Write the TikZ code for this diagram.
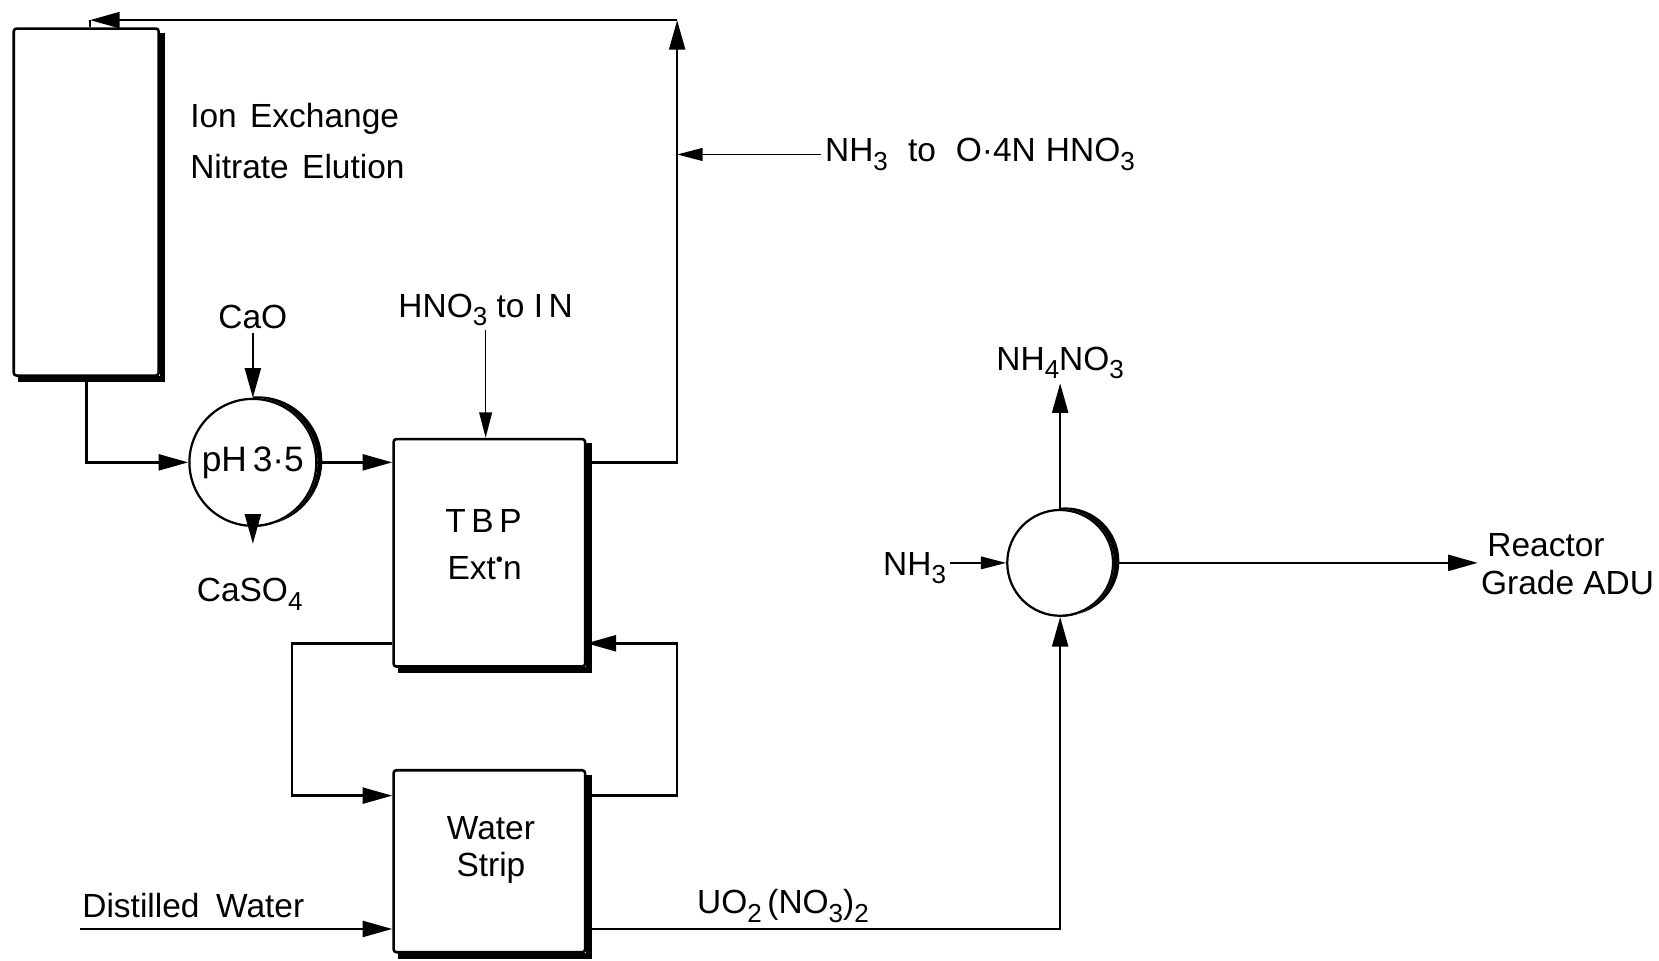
\documentclass[tikz,border=0pt]{standalone}
\usepackage{fontspec}
\setmainfont{Liberation Sans}
\usetikzlibrary{arrows.meta}
\newcommand\chemsub[1]{\raisebox{-0.5ex}{\fontsize{14}{14}\selectfont #1}}
\begin{document}
\begin{tikzpicture}[x=0.02cm,y=-0.02cm,
  unitbox/.style={draw, line width=1.4pt, rounded corners=1.5pt, inner sep=0pt},
  vessel/.style={draw, circle, line width=1.2pt, inner sep=0pt, font=\fontsize{19}{21}\selectfont},
  flow/.style={line width=1.4pt, -{Triangle[length=0.56cm,width=0.30cm]}},
  thinflow/.style={line width=0.9pt, -{Triangle[length=0.48cm,width=0.24cm]}},
  pipe/.style={line width=1.4pt},
  lbl/.style={font=\fontsize{18}{21}\selectfont, inner sep=2pt},
  shade/.style={line width=3pt}]
\useasboundingbox (0,0) rectangle (1568,908);

% units
\node[unitbox, minimum width=2.74cm, minimum height=6.56cm] (col) at (81.5,191) {};
\node[unitbox, minimum width=3.62cm, minimum height=4.30cm] (tbp) at (462.5,522.5) {};
\node[unitbox, minimum width=3.62cm, minimum height=3.44cm] (strip) at (462.5,814) {};
\node[vessel, minimum size=2.4cm] (ph) at (239,437) {pH\,3·5};
\node[vessel, minimum size=2.0cm] (mix) at (1002,532) {};

% shadows
\foreach \b in {col,tbp,strip}{
  \draw[shade] ([xshift=1.3pt,yshift=-3pt]\b.north east) -- ([xshift=1.3pt,yshift=-1.3pt]\b.south east) -- ([xshift=3pt,yshift=-1.3pt]\b.south west);
}
\begin{scope}
  \clip ([yshift=-2cm]ph.center) rectangle ([xshift=2cm,yshift=2cm]ph.center);
  \fill[even odd rule] (ph.center) circle[radius=1.2cm+0.6pt] ([xshift=2.6pt,yshift=0.8pt]ph.center) circle[radius=1.2cm+0.6pt];
\end{scope}
\begin{scope}
  \clip ([yshift=-2cm]mix.center) rectangle ([xshift=2cm,yshift=2cm]mix.center);
  \fill[even odd rule] (mix.center) circle[radius=1.0cm+0.6pt] ([xshift=2.8pt,yshift=0.8pt]mix.center) circle[radius=1.0cm+0.6pt];
\end{scope}

% labels
\node[lbl, anchor=west] (ion) at (176,112) {Ion\hspace{0.4em}Exchange};
\node[lbl, anchor=west] (nit) at (176,157) {Nitrate\hspace{0.4em}Elution};
\node[lbl] (cao) at (239,300) {CaO};
\node[lbl] (caso) at (236,562) {CaSO\chemsub{4}};
\node[lbl] (hno) at (459,293) {HNO\chemsub{3} to I\,N};
\node[lbl, anchor=west] (nh3b) at (776,146) {NH\chemsub{3}\hspace{0.6em}to\hspace{0.6em}O·4N\hspace{0.3em}HNO\chemsub{3}};
\node[lbl] (tbpt) at (457,492) {T\,B\,P};
\node[lbl] (tbpe) at (458,537) {Ext\raisebox{0.75ex}{\fontsize{11}{11}\selectfont\textbullet}n};
\node[lbl] (wat) at (464,783) {Water};
\node[lbl] (stp) at (464,820) {Strip};
\node[lbl, anchor=west] (dist) at (74,856) {Distilled\hspace{0.5em}Water};
\node[lbl] (uo) at (740,856) {UO\chemsub{2}\,(NO\chemsub{3})\chemsub{2}};
\node[lbl, anchor=east] (nh3) at (898,537) {NH\chemsub{3}};
\node[lbl] (nh4) at (1002,343) {NH\chemsub{4}NO\chemsub{3}};
\node[lbl, anchor=west] (rea) at (1402,515) {Reactor};
\node[lbl, anchor=west] (gra) at (1396,551) {Grade ADU};

% turning points
\coordinate (tr) at (640,19);
\coordinate (tl) at (85,19);
\coordinate (la) at (276,608);
\coordinate (lb) at (276,752);
\coordinate (ra) at (640,608);
\coordinate (rb) at (640,752);
\coordinate (dw) at (76,878);
\coordinate (catip) at (239,514);

% connectors
\draw[flow] (col.south) |- (ph.west);
\draw[flow] (cao.south) -- (ph.north);
\draw[flow] (ph.south) -- (catip);
\draw[flow] (ph.east) -- (ph.east -| tbp.west);
\draw[thinflow] (hno.south) -- (hno.south |- tbp.north);
\draw[flow] (ph.east -| tbp.east) -| (tr);
\draw[flow] (tr) -- (tl);
\draw[pipe] (tl) -- (tl |- col.north);
\draw[thinflow] (nh3b.west) -- (nh3b.west -| tr);
\draw[flow] (la -| tbp.west) -- (la) -- (lb) -- (lb -| strip.west);
\draw[flow] (rb -| strip.east) -- (rb) -- (ra) -- (ra -| tbp.east);
\draw[flow] (dw) -- (dw -| strip.west);
\draw[flow] (dw -| strip.east) -| (mix.south);
\draw[thinflow] (nh3.east |- mix.west) -- (mix.west);
\draw[flow] (mix.north) -- (nh4.south);
\draw[flow] (mix.east) -- ([xshift=-3pt]mix.east -| rea.west);
\end{tikzpicture}
\end{document}
